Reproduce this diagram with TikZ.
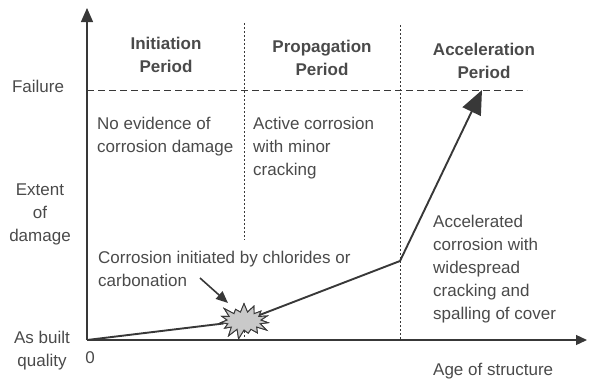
\documentclass[tikz,border=0pt]{standalone}
\usepackage{fontspec}
\setmainfont{Liberation Sans}
\usetikzlibrary{arrows.meta,shapes.symbols}
\definecolor{tcol}{HTML}{4A4A4A}
\definecolor{lcol}{HTML}{383838}
\definecolor{sfill}{HTML}{C9C9C9}
\begin{document}
\begin{tikzpicture}[x=1pt,y=-1pt,
  txt/.style={font=\fontsize{17}{23}\selectfont, text=tcol, inner sep=0pt, align=left},
  hdr/.style={txt, font=\fontsize{17}{23}\selectfont\bfseries, align=center},
  lab/.style={txt, align=center},
  axis/.style={draw=lcol, line width=1.3pt},
  failline/.style={draw=lcol, line width=0.9pt, dash pattern=on 7pt off 4pt},
  dotline/.style={draw=lcol, line width=0.8pt, dash pattern=on 2pt off 2pt},
  curve/.style={draw=lcol, line width=1.9pt, line join=round},
  burst/.style={starburst, starburst points=15, starburst point height=10pt, random starburst=60,
    draw=lcol, fill=sfill, line width=0.9pt, minimum width=54pt, minimum height=38pt, inner sep=0pt}
]
\useasboundingbox (0,0) rectangle (589,380);

% axes
\coordinate (O) at (87,340);
\coordinate (Ytop) at (87,8);
\coordinate (Xend) at (587,340);
\draw[axis,-{Triangle[length=14pt,width=12pt]}] (O) -- (Ytop);
\draw[axis,-{Triangle[length=11pt,width=10pt]}] (O) -- (Xend);

% failure level
\coordinate (F1) at (87,90);
\coordinate (F2) at (527,90);
\draw[failline] (F1) -- (F2);

% period boundaries
\coordinate (D1a) at (244,23);
\coordinate (D1b) at (244,240);
\coordinate (D2a) at (400,25);
\coordinate (D2b) at (400,340);
\draw[dotline] (D1a) -- (D1b);
\draw[dotline] (D2a) -- (D2b);

% damage curve
\node[burst] (sb) at (244,321) {};
\draw[dotline] (sb.south) -- (sb.south |- O);
\coordinate (K) at (400,261);
\coordinate (T) at (482,90);
\draw[curve] (O) -- (sb);
\draw[curve,-{Triangle[length=24pt,width=20pt]}] (sb) -- (K) -- (T);
\node[burst] at (244,321) {};

% annotation arrow
\coordinate (a1) at (200,278);
\coordinate (a2) at (228,303);
\draw[draw=lcol, line width=1.6pt, -{Triangle[length=12pt,width=10pt]}] (a1) -- (a2);

% headers
\node[hdr, anchor=north] (h1) at (166,37) {Initiation\\Period};
\node[hdr, anchor=north] (h2) at (322,40) {Propagation\\Period};
\node[hdr, anchor=north] (h3) at (484,43) {Acceleration\\Period};

% y-axis labels
\node[lab, anchor=north] (fail) at (38,80) {Failure};
\node[lab, anchor=north] (ext) at (40,184) {Extent\\of\\damage};
\node[lab, anchor=north] (asb) at (42,331) {As built\\quality};

% descriptions
\node[txt, anchor=north west] (t1) at (97,117) {No evidence of\\corrosion damage};
\node[txt, anchor=north west] (t2) at (253,117) {Active corrosion\\with minor\\cracking};
\node[txt, anchor=north west] (t3) at (98,251) {Corrosion initiated by chlorides or\\carbonation};
\node[txt, anchor=north west] (t4) at (433,215) {Accelerated\\corrosion with\\widespread\\cracking and\\spalling of cover};

% x-axis labels
\node[txt, anchor=north] (zero) at (90,351) {0};
\node[txt, anchor=north west] (age) at (433,363) {Age of structure};
\end{tikzpicture}
\end{document}
